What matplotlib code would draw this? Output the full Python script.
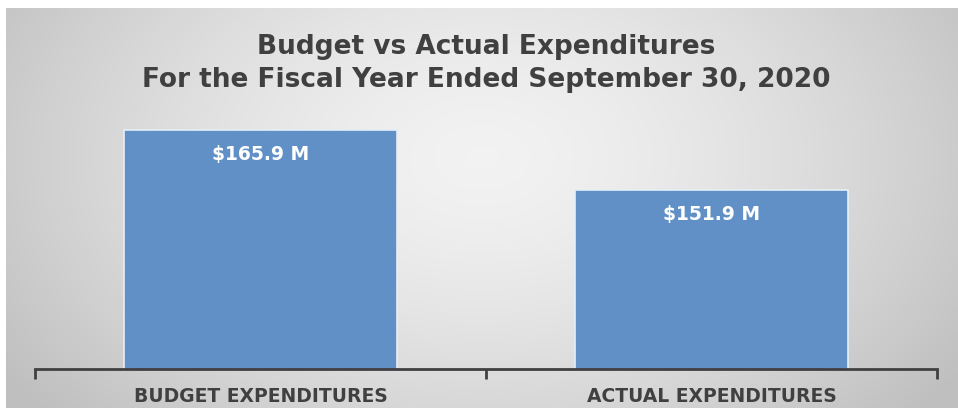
import numpy as np
import matplotlib
matplotlib.use("Agg")
import matplotlib.pyplot as plt

categories = ["BUDGET EXPENDITURES", "ACTUAL EXPENDITURES"]
values = [165.9, 151.9]
value_labels = ["$165.9 M", "$151.9 M"]
title_lines = ["Budget vs Actual Expenditures",
               "For the Fiscal Year Ended September 30, 2020"]

BAR_COLOR = "#6190c6"
TEXT_COLOR = "#404040"
FONT = ["DejaVu Sans"]

fig = plt.figure(figsize=(9.58, 4.15), dpi=100)
fig.patch.set_facecolor("white")

# grey background panel with a soft radial gradient
bg = fig.add_axes([6 / 958, 7 / 415, 952 / 958, 400 / 415])
gx, gy = np.meshgrid(np.linspace(-1, 1, 400), np.linspace(-1, 1, 200))
r = np.sqrt((gx / 1.0) ** 2 + ((gy + 0.25) / 1.6) ** 2)
shade = 0.95 - 0.15 * np.clip(r, 0, 1.2) ** 1.5
bg.imshow(np.dstack([shade] * 3), aspect="auto", extent=[0, 1, 0, 1],
          interpolation="bicubic")
bg.axis("off")

ax = fig.add_axes([35 / 958, (415 - 369) / 415, 902 / 958, 248 / 415])
ax.patch.set_alpha(0)
x = np.arange(len(categories))
ax.bar(x, values, width=0.605, color=BAR_COLOR, edgecolor="#e6eef8",
       linewidth=1.2, zorder=2)
ax.set_xlim(-0.5, 1.5)
ax.set_ylim(110, 168)

for xi, v, lab in zip(x, values, value_labels):
    ax.annotate(lab, (xi, v), xytext=(0, -18), textcoords="offset points",
                ha="center", va="center", color="white", fontsize=13.5,
                fontweight="bold", family=FONT, zorder=3)

for s in ["top", "right", "left"]:
    ax.spines[s].set_visible(False)
ax.spines["bottom"].set_color(TEXT_COLOR)
ax.spines["bottom"].set_linewidth(2)
ax.spines["bottom"].set_zorder(4)
ax.set_yticks([])
ax.set_xticks([-0.5, 0.5, 1.5])
ax.set_xticklabels([])
ax.set_xticks(x, minor=True)
ax.set_xticklabels(categories, minor=True, color=TEXT_COLOR, fontsize=13.5,
                   fontweight="bold", family=FONT)
ax.tick_params(axis="x", which="major", length=7, width=2, color=TEXT_COLOR)
ax.tick_params(axis="x", which="minor", length=0, pad=13)

fig.text(486 / 958, 1 - 47 / 415, title_lines[0], ha="center", va="center",
         fontsize=19, fontweight="bold", color=TEXT_COLOR, family=FONT)
fig.text(486 / 958, 1 - 80 / 415, title_lines[1], ha="center", va="center",
         fontsize=19, fontweight="bold", color=TEXT_COLOR, family=FONT)

fig.savefig("out.png", dpi=100)
